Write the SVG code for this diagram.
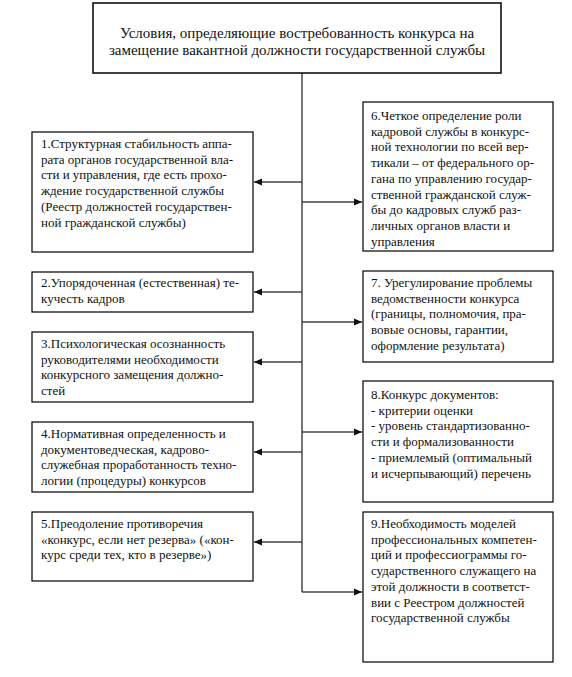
<svg xmlns="http://www.w3.org/2000/svg" width="572" height="677" viewBox="0 0 572 677">
<defs>
  <marker id="ah" markerUnits="userSpaceOnUse" markerWidth="9" markerHeight="8" refX="8" refY="4" orient="auto">
    <path d="M0,0.5 L8,4 L0,7.5 Z" fill="#111"/>
  </marker>
</defs>
<rect width="572" height="677" fill="#fff"/>

<g id="connectors" fill="none" stroke="#444" stroke-width="1.4">
  <path d="M302,73 V592" stroke="#666" stroke-width="1.8"/>
  <path d="M302,592 H362" marker-end="url(#ah)"/>
  <path d="M302,182 H254" marker-end="url(#ah)"/>
  <path d="M302,292 H254" marker-end="url(#ah)"/>
  <path d="M302,362 H254" marker-end="url(#ah)"/>
  <path d="M302,452 H254" marker-end="url(#ah)"/>
  <path d="M302,542 H254" marker-end="url(#ah)"/>
  <path d="M302,202 H362" marker-end="url(#ah)"/>
  <path d="M302,322 H362" marker-end="url(#ah)"/>
  <path d="M302,432 H362" marker-end="url(#ah)"/>
</g>

<g id="title">
  <rect x="93" y="3" width="408" height="70" fill="#fff" stroke="#000" stroke-width="1.5"/>
  <text x="297" y="38" text-anchor="middle" fill="#111" font-family="Liberation Serif" font-size="15">Условия, определяющие востребованность конкурса на</text>
  <text x="297" y="55" text-anchor="middle" fill="#111" font-family="Liberation Serif" font-size="15">замещение вакантной должности государственной службы</text>
</g>

<g id="n1" fill="#111">
  <rect x="32" y="132" width="221" height="120" fill="#fff" stroke="#000" stroke-width="1.2"/>
  <text x="41" y="148" font-family="Liberation Serif" font-size="13">1.Структурная стабильность аппа-</text>
  <text x="41" y="163.7" font-family="Liberation Serif" font-size="13">рата органов государственной вла-</text>
  <text x="41" y="179.4" font-family="Liberation Serif" font-size="13">сти и управления, где есть прохо-</text>
  <text x="41" y="195.1" font-family="Liberation Serif" font-size="13">ждение государственной службы</text>
  <text x="41" y="210.8" font-family="Liberation Serif" font-size="13">(Реестр должностей государствен-</text>
  <text x="41" y="226.5" font-family="Liberation Serif" font-size="13">ной гражданской службы)</text>
</g>

<g id="n2" fill="#111">
  <rect x="32" y="272" width="221" height="40" fill="#fff" stroke="#000" stroke-width="1.2"/>
  <text x="41" y="287" font-family="Liberation Serif" font-size="13">2.Упорядоченная (естественная) те-</text>
  <text x="41" y="302.7" font-family="Liberation Serif" font-size="13">кучесть кадров</text>
</g>

<g id="n3" fill="#111">
  <rect x="32" y="332" width="221" height="70" fill="#fff" stroke="#000" stroke-width="1.2"/>
  <text x="41" y="348" font-family="Liberation Serif" font-size="13">3.Психологическая осознанность</text>
  <text x="41" y="363.7" font-family="Liberation Serif" font-size="13">руководителями необходимости</text>
  <text x="41" y="379.4" font-family="Liberation Serif" font-size="13">конкурсного замещения должно-</text>
  <text x="41" y="395.1" font-family="Liberation Serif" font-size="13">стей</text>
</g>

<g id="n4" fill="#111">
  <rect x="32" y="422" width="221" height="70" fill="#fff" stroke="#000" stroke-width="1.2"/>
  <text x="41" y="438" font-family="Liberation Serif" font-size="13">4.Нормативная определенность и</text>
  <text x="41" y="453.7" font-family="Liberation Serif" font-size="13">документоведческая, кадрово-</text>
  <text x="41" y="469.4" font-family="Liberation Serif" font-size="13">служебная проработанность техно-</text>
  <text x="41" y="485.1" font-family="Liberation Serif" font-size="13">логии (процедуры) конкурсов</text>
</g>

<g id="n5" fill="#111">
  <rect x="32" y="512" width="221" height="69" fill="#fff" stroke="#000" stroke-width="1.2"/>
  <text x="41" y="528" font-family="Liberation Serif" font-size="13">5.Преодоление противоречия</text>
  <text x="41" y="543.7" font-family="Liberation Serif" font-size="13">«конкурс, если нет резерва» («кон-</text>
  <text x="41" y="559.4" font-family="Liberation Serif" font-size="13">курс среди тех, кто в резерве»)</text>
</g>

<g id="n6" fill="#111">
  <rect x="363" y="102" width="190" height="149" fill="#fff" stroke="#000" stroke-width="1.2"/>
  <text x="371" y="120" font-family="Liberation Serif" font-size="13">6.Четкое определение роли</text>
  <text x="371" y="135.7" font-family="Liberation Serif" font-size="13">кадровой службы в конкурс-</text>
  <text x="371" y="151.4" font-family="Liberation Serif" font-size="13">ной технологии по всей вер-</text>
  <text x="371" y="167.1" font-family="Liberation Serif" font-size="13">тикали – от федерального ор-</text>
  <text x="371" y="182.8" font-family="Liberation Serif" font-size="13">гана по управлению государ-</text>
  <text x="371" y="198.5" font-family="Liberation Serif" font-size="13">ственной гражданской служ-</text>
  <text x="371" y="214.2" font-family="Liberation Serif" font-size="13">бы до кадровых служб раз-</text>
  <text x="371" y="229.9" font-family="Liberation Serif" font-size="13">личных органов власти и</text>
  <text x="371" y="245.6" font-family="Liberation Serif" font-size="13">управления</text>
</g>

<g id="n7" fill="#111">
  <rect x="363" y="271" width="190" height="91" fill="#fff" stroke="#000" stroke-width="1.2"/>
  <text x="371" y="287" font-family="Liberation Serif" font-size="13">7. Урегулирование проблемы</text>
  <text x="371" y="302.7" font-family="Liberation Serif" font-size="13">ведомственности конкурса</text>
  <text x="371" y="318.4" font-family="Liberation Serif" font-size="13">(границы, полномочия, пра-</text>
  <text x="371" y="334.1" font-family="Liberation Serif" font-size="13">вовые основы, гарантии,</text>
  <text x="371" y="349.8" font-family="Liberation Serif" font-size="13">оформление результата)</text>
</g>

<g id="n8" fill="#111">
  <rect x="363" y="381" width="190" height="121" fill="#fff" stroke="#000" stroke-width="1.2"/>
  <text x="371" y="399" font-family="Liberation Serif" font-size="13">8.Конкурс документов:</text>
  <text x="371" y="414.7" font-family="Liberation Serif" font-size="13">- критерии оценки</text>
  <text x="371" y="430.4" font-family="Liberation Serif" font-size="13">- уровень стандартизованно-</text>
  <text x="371" y="446.1" font-family="Liberation Serif" font-size="13">сти и формализованности</text>
  <text x="371" y="461.8" font-family="Liberation Serif" font-size="13">- приемлемый (оптимальный</text>
  <text x="371" y="477.5" font-family="Liberation Serif" font-size="13">и исчерпывающий) перечень</text>
</g>

<g id="n9" fill="#111">
  <rect x="363" y="512" width="190" height="150" fill="#fff" stroke="#000" stroke-width="1.2"/>
  <text x="371" y="528" font-family="Liberation Serif" font-size="13">9.Необходимость моделей</text>
  <text x="371" y="543.7" font-family="Liberation Serif" font-size="13">профессиональных компетен-</text>
  <text x="371" y="559.4" font-family="Liberation Serif" font-size="13">ций и профессиограммы го-</text>
  <text x="371" y="575.1" font-family="Liberation Serif" font-size="13">сударственного служащего на</text>
  <text x="371" y="590.8" font-family="Liberation Serif" font-size="13">этой должности в соответст-</text>
  <text x="371" y="606.5" font-family="Liberation Serif" font-size="13">вии с Реестром должностей</text>
  <text x="371" y="622.2" font-family="Liberation Serif" font-size="13">государственной службы</text>
</g>
</svg>
